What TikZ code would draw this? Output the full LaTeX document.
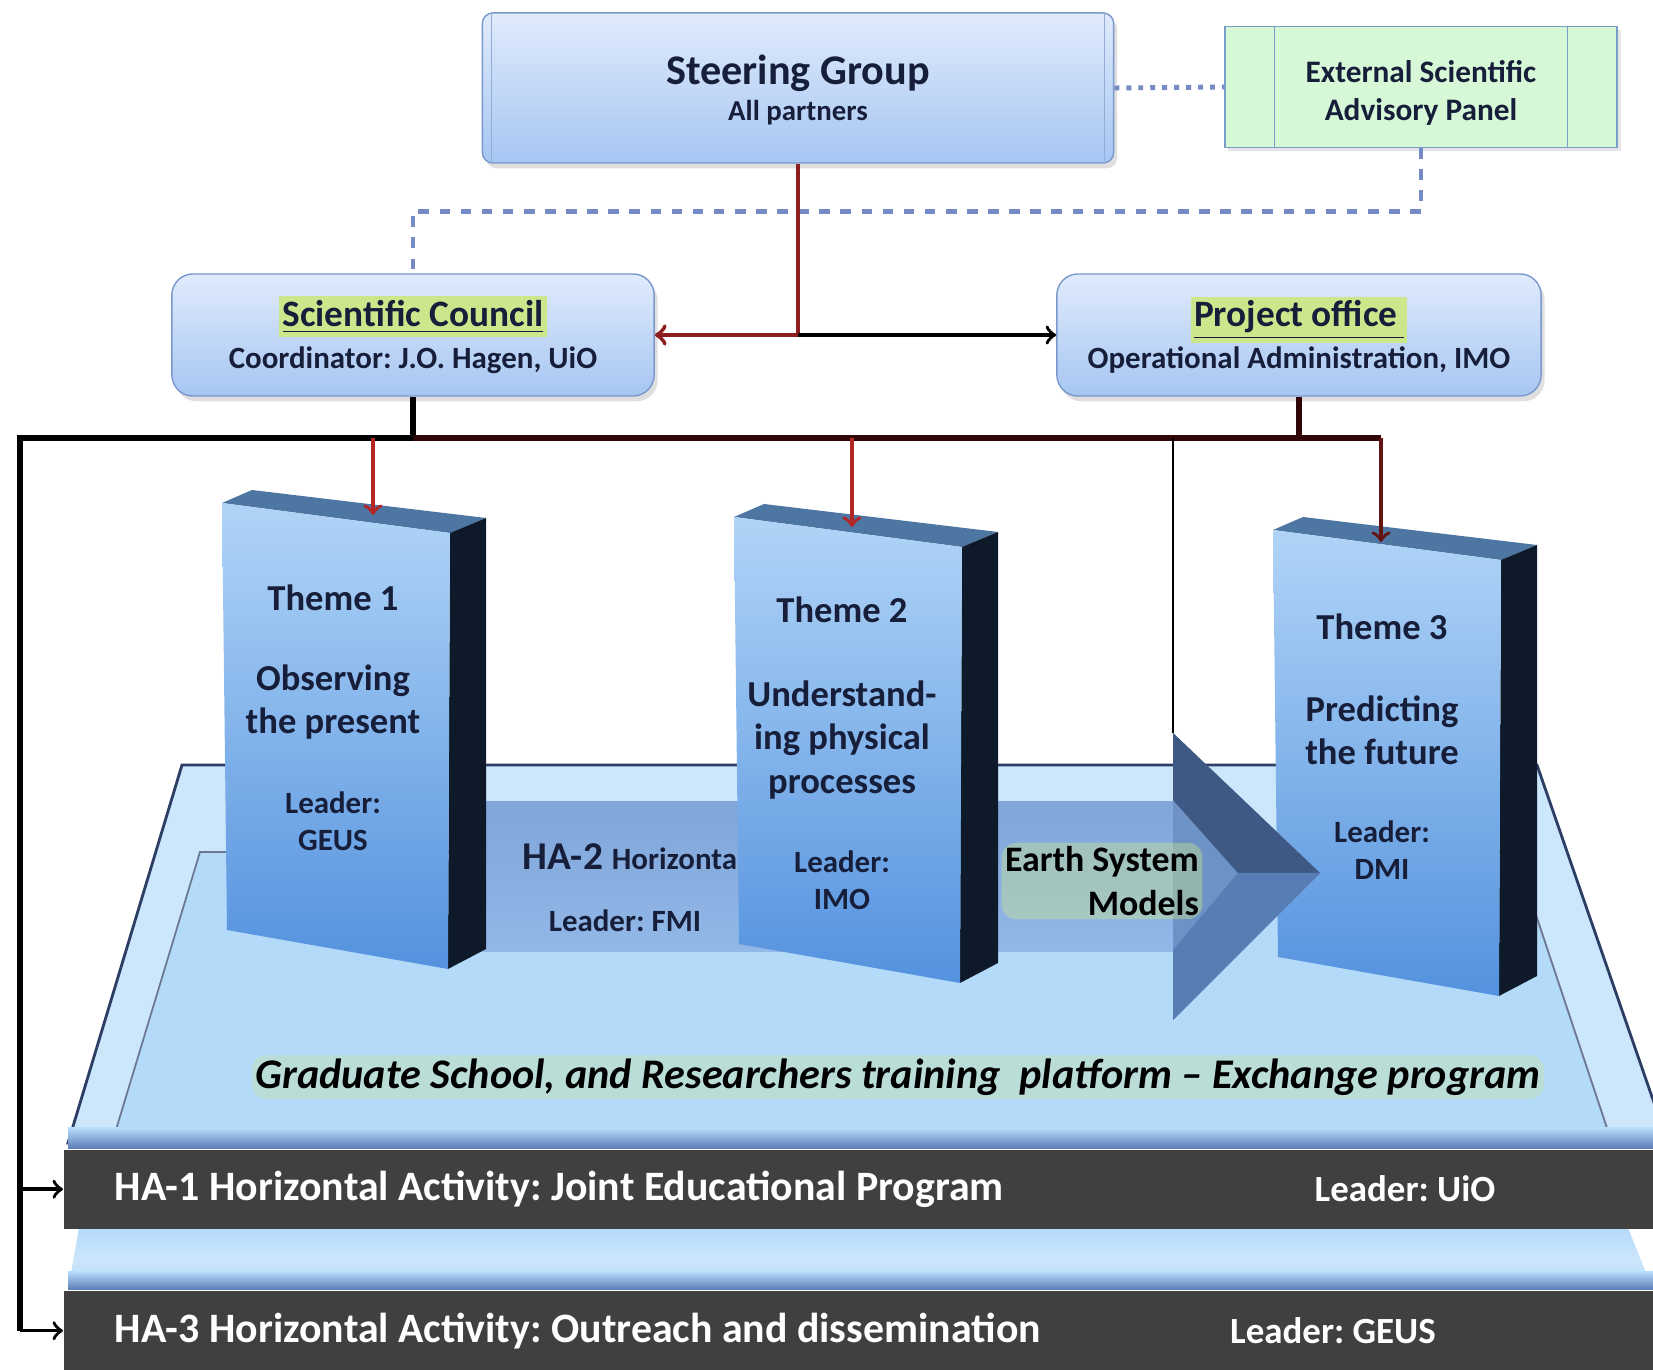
\documentclass[tikz,border=0pt]{standalone}
\usepackage{fontspec}
\setmainfont{Carlito}
\frenchspacing
\usetikzlibrary{shadows}
\definecolor{boxtop}{RGB}{224,235,252}
\definecolor{boxbot}{RGB}{166,198,242}
\definecolor{boxline}{RGB}{122,152,204}
\definecolor{panelgreen}{RGB}{214,248,214}
\definecolor{panelline}{RGB}{118,158,200}
\definecolor{linkblue}{RGB}{118,138,198}
\definecolor{busred}{RGB}{48,6,6}
\definecolor{arrowred}{RGB}{178,38,38}
\definecolor{platouter}{RGB}{204,230,252}
\definecolor{platinner}{RGB}{180,218,250}
\definecolor{platedge}{RGB}{45,62,100}
\definecolor{slabtop}{RGB}{176,212,247}
\definecolor{slabbot}{RGB}{84,146,222}
\definecolor{slabside}{RGB}{14,26,42}
\definecolor{slabcap}{RGB}{78,118,162}
\definecolor{shafttop}{RGB}{128,166,218}
\definecolor{shaftmid}{RGB}{88,124,180}
\definecolor{shaftbot}{RGB}{146,184,232}
\definecolor{headdark}{RGB}{62,90,132}
\definecolor{headmid}{RGB}{108,146,198}
\definecolor{bandgray}{RGB}{64,64,64}
\definecolor{textnavy}{RGB}{22,30,58}
\definecolor{glow}{RGB}{204,230,140}
\begin{document}
\begin{tikzpicture}[x=0.01cm, y=-0.01cm,
    orgbox/.style={draw=boxline, rounded corners=6pt, top color=boxtop, bottom color=boxbot,
        text=textnavy, align=center, font=\bfseries,
        drop shadow={opacity=0.25, shadow xshift=1pt, shadow yshift=-1.5pt}},
    themetext/.style={text=textnavy, align=center, font=\bfseries},
    bandtext/.style={text=white, inner sep=0pt, font=\bfseries\fontsize{11.9}{13}\selectfont},
    bandlead/.style={text=white, inner sep=0pt, font=\bfseries\fontsize{10.5}{12}\selectfont},
    darkband/.style={fill=bandgray, inner sep=0pt, anchor=north west},
    bus/.style={line width=1.5pt, black},
    redbus/.style={line width=1.5pt, busred},
    droparrow/.style={line width=1pt, arrowred},
    link/.style={line width=1.4pt, linkblue}]
    \clip (0,0) rectangle (1653,1370);
    \fill[white] (0,0) rectangle (1653,1370);

    % Platform
    \filldraw[fill=platouter, draw=platedge, line width=0.8pt] (182,765) -- (1537,765) -- (1668,1143) -- (68,1143) -- cycle;
    \filldraw[fill=platinner, draw=platedge!70, line width=0.5pt] (200,852) -- (1515,852) -- (1612,1143) -- (112,1143) -- cycle;
    \shade[top color=platinner, bottom color=shaftmid] (68,1128) rectangle (1653,1149);

    % Lower platform between the bands
    \shade[top color=platinner, bottom color=platinner, middle color=platouter] (79,1228) -- (1628,1228) -- (1653,1290) -- (68,1290) -- cycle;
    \shade[top color=platinner, bottom color=shaftmid] (68,1272) rectangle (1653,1290);

    % HA-2 shaft
    \shade[top color=shafttop, middle color=shaftmid, bottom color=shaftbot] (470,802) rectangle (1173,952);
    \node[text=textnavy, font=\bfseries, anchor=base west, inner sep=0pt] (ha2) at (522,870)
        {\fontsize{11.2}{13}\selectfont HA-2 \fontsize{8.8}{10}\selectfont Horizontal};
    \node[themetext, font=\bfseries\fontsize{8.8}{10}\selectfont] (ha2lead) at (625,921) {Leader: FMI};

    % Theme slabs
    \foreach \sx/\sy in {222/503, 734/517, 1273/530} {
        \fill[slabcap] (\sx,\sy) -- ++(30,-13) -- ++(234,28) -- ++(-36,15) -- cycle;
        \fill[slabside] (\sx+228,\sy+30) -- ++(36,-15) -- ++(0,431) -- ++(-38,20) -- cycle;
        \shade[top color=slabtop, bottom color=slabbot] (\sx,\sy) -- ++(228,30) -- ++(-2,436) -- ++(-221,-39) -- cycle;
    }
    \node[themetext, font=\bfseries\fontsize{10.4}{12}\selectfont] (t1title) at (333,598) {Theme 1};
    \node[themetext, font=\bfseries\fontsize{10.4}{12.3}\selectfont] (t1desc) at (333,702) {Observing\\the present};
    \node[themetext, font=\bfseries\fontsize{8.8}{10.4}\selectfont] (t1lead) at (333,821) {Leader:\\GEUS};
    \node[themetext, font=\bfseries\fontsize{10.4}{12}\selectfont] (t2title) at (842,610) {Theme 2};
    \node[themetext, font=\bfseries\fontsize{10.4}{12.3}\selectfont] (t2desc) at (842,740) {Understand-\\ing physical\\processes};
    \node[themetext, font=\bfseries\fontsize{8.8}{10.4}\selectfont] (t2lead) at (842,880) {Leader:\\IMO};
    \node[themetext, font=\bfseries\fontsize{10.4}{12}\selectfont] (t3title) at (1382,627) {Theme 3};
    \node[themetext, font=\bfseries\fontsize{10.4}{12.3}\selectfont] (t3desc) at (1382,730) {Predicting\\the future};
    \node[themetext, font=\bfseries\fontsize{8.8}{10.4}\selectfont] (t3lead) at (1382,850) {Leader:\\DMI};

    % Arrow head of the Earth System Models arrow
    \fill[headmid] (1173,733) -- (1320,873) -- (1173,1020) -- cycle;
    \fill[headdark] (1173,733) -- (1320,873) -- (1238,873) -- (1173,800) -- cycle;
    \fill[shaftmid] (1173,1020) -- (1320,873) -- (1238,873) -- (1173,950) -- cycle;
    \node[text=black, font=\bfseries\fontsize{10.2}{12.4}\selectfont, align=right,
        fill=glow, fill opacity=0.4, text opacity=1, rounded corners=4pt, inner sep=1pt] (esm) at (1102,881) {Earth System\\Models};

    \node[text=black, font=\bfseries\itshape\fontsize{12}{14}\selectfont,
        fill=glow, fill opacity=0.3, text opacity=1, rounded corners=4pt, inner sep=1pt] (grad) at (898,1077)
        {Graduate School, and Researchers training \ platform -- Exchange program};

    % Horizontal activity bands
    \node[darkband, minimum width=15.9cm, minimum height=0.79cm] (ha1) at (63,1149) {};
    \node[darkband, minimum width=15.9cm, minimum height=0.8cm] (ha3) at (63,1290) {};
    \node[bandtext, anchor=west] (ha1text) at (114,1189) {HA-1 Horizontal Activity: Joint Educational Program};
    \node[bandlead] (ha1lead) at (1405,1189) {Leader: UiO};
    \node[bandtext, anchor=west] (ha3text) at (114,1331) {HA-3 Horizontal Activity: Outreach and dissemination};
    \node[bandlead] (ha3lead) at (1333,1331) {Leader: GEUS};

    % Management boxes
    \node[orgbox, rounded corners=3pt, minimum width=6.31cm, minimum height=1.5cm] (sg) at (798,88) {};
    \node[text=textnavy, font=\bfseries\fontsize{12}{14}\selectfont] (sgtitle) at (798,73) {Steering Group};
    \node[text=textnavy, font=\bfseries\fontsize{8.2}{10}\selectfont] (sgsub) at (798,113) {All partners};
    \draw[boxline!80] ([xshift=2.8pt]sg.north west) -- ([xshift=2.8pt]sg.south west);
    \draw[boxline!80] ([xshift=-2.8pt]sg.north east) -- ([xshift=-2.8pt]sg.south east);
    \node[draw=panelline, fill=panelgreen, minimum width=3.92cm, minimum height=1.21cm,
        drop shadow={opacity=0.2, shadow xshift=1pt, shadow yshift=-1pt}] (esap) at (1421,87) {};
    \node[text=textnavy, align=center, font=\bfseries\fontsize{8.9}{11}\selectfont] (esaptext) at (1421,93)
        {External Scientific\\Advisory Panel};
    \draw[panelline] ([xshift=0.5cm]esap.north west) -- ([xshift=0.5cm]esap.south west);
    \draw[panelline] ([xshift=-0.5cm]esap.north east) -- ([xshift=-0.5cm]esap.south east);
    \node[orgbox, minimum width=4.82cm, minimum height=1.22cm] (sc) at (413,335)
        {\fontsize{10.6}{13}\selectfont\setlength{\fboxsep}{1pt}\colorbox{glow}{\underline{Scientific Council}}\\[0pt]
         \fontsize{8.8}{10.5}\selectfont Coordinator: J.O. Hagen, UiO};
    \node[orgbox, minimum width=4.84cm, minimum height=1.22cm] (po) at (1299,335)
        {\fontsize{10.6}{13}\selectfont\setlength{\fboxsep}{1pt}\colorbox{glow}{\underline{Project office\,}}\\[0pt]
         \fontsize{8.8}{10.5}\selectfont Operational Administration, IMO};

    % Connectors
    \coordinate (jsg) at (798,335);
    \coordinate (jsc) at (413,438);
    \coordinate (jpo) at (1299,438);
    \coordinate (lbus) at (20,438);
    \coordinate (t1top) at (373,515);
    \coordinate (t2top) at (852,527);
    \coordinate (t3top) at (1381,542);
    \coordinate (esmtop) at (1173,733);
    \draw[link, dotted] (sg.east) -- (esap.west);
    \draw[link, dashed] (esap.south) -- ++(0,63) -| (sc.north);
    \draw[line width=1.2pt, arrowred!80!black] (sg.south) -- (jsg);
    \draw[->, line width=1.2pt, arrowred!80!black] (jsg) -- (sc.east);
    \draw[->, line width=1pt, black] (jsg) -- (po.west);
    \draw[bus] (sc.south) -- (jsc) -- (lbus) -- (lbus |- ha3.west);
    \draw[->, bus, line width=1pt] (lbus |- ha1.west) -- (ha1.west);
    \draw[->, bus, line width=1pt] (lbus |- ha3.west) -- (ha3.west);
    \draw[redbus] (jsc) -- (t3top |- jsc);
    \draw[redbus] (po.south) -- (jpo);
    \draw[->, droparrow] (t1top |- jsc) -- (t1top);
    \draw[->, droparrow] (t2top |- jsc) -- (t2top);
    \draw[->, droparrow, busred!60!arrowred] (t3top |- jsc) -- (t3top);
    \draw[line width=0.8pt, black] (esmtop |- jsc) -- (esmtop);
\end{tikzpicture}
\end{document}
